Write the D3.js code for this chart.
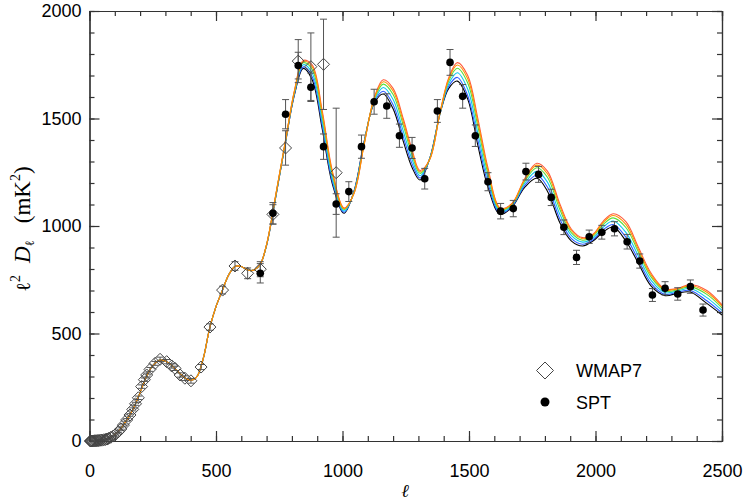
<!DOCTYPE html>
<html><head><meta charset="utf-8">
<script src="https://cdn.jsdelivr.net/npm/d3@7"></script>
<style>body{margin:0;background:#fff}svg{display:block}</style>
</head><body><svg id="c" width="748" height="502"></svg>
<script>
// ---------- data ----------
const xTicks = [0, 500, 1000, 1500, 2000, 2500];
const yTicks = [0, 500, 1000, 1500, 2000];

const wmapL = [3,6,9,12,15,19,23,27,31,36,41,46,51,57,63,69,75,84,94,104,114,124,134,147,160,171,182,193,206,217,226,239,259,279,305,325,338,358,377,401,441,476,526,575,625,675,725,775,825,875,925,975];
const wmapD = [0,0,0,0,0,1,1,1,2,2,3,4,4,6,7,9,12,17,23,32,43,56,74,98,121,147,173,201,253,285,307,333,361,380,369,349,338,307,292,280,344,530,702,814,780,799,1054,1363,1767,1741,1752,1248];
const wmapErr = [0,0,0,0,0,1,1,1,1,1,1,1,1,2,2,2,2,3,3,4,4,5,5,6,6,7,7,8,8,8,9,9,9,10,10,10,10,10,11,11,12,15,18,20,25,35,45,80,100,157,210,300];

const sptL = [675,725,775,825,875,925,975,1025,1075,1125,1175,1225,1275,1325,1375,1425,1475,1525,1575,1625,1675,1725,1775,1825,1875,1925,1975,2025,2075,2125,2175,2225,2275,2325,2375,2425];
const sptD = [780,1059,1520,1746,1645,1369,1102,1160,1369,1578,1558,1420,1363,1220,1535,1761,1603,1420,1206,1069,1081,1253,1240,1133,994,854,950,971,987,927,837,679,710,684,718,609];
const sptErr = [45,50,68,62,66,59,48,46,54,58,57,54,49,48,53,60,55,50,42,36,38,39,37,38,34,33,31,32,33,34,33,30,31,29,31,28];

// model curves: common low-ell part + per-model high-ell part
const lowEll = [0,20,40,60,80,100,125,150,175,200,225,250,275,300,325,350,375,400,425,450,475,500,525,550,575,600,625,650,675];
const lowVals = [0,1,3,7,14,30,60,103,155,225,300,350,375,372,352,322,295,282,300,385,525,625,700,772,812,812,795,795,822];
const highEll = [700,740,775,810,845,880,920,960,1006,1045,1085,1125,1161,1200,1240,1275,1306,1345,1385,1420,1454,1495,1535,1575,1623,1670,1720,1768,1810,1860,1905,1949,1990,2030,2070,2120,2170,2220,2275,2325,2374,2440,2500];
const modelBlack  = [910,1160,1390,1610,1733,1680,1450,1195,1059,1160,1390,1570,1614,1545,1395,1272,1214,1315,1520,1640,1674,1590,1375,1180,1054,1088,1180,1222,1162,1013,930,907,930,972,995,930,825,720,676,688,693,640,586];
const modelBlue   = [911,1162,1392,1614,1740,1694,1467,1206,1064,1158,1387,1575,1627,1564,1416,1289,1223,1314,1521,1650,1691,1606,1400,1198,1060,1091,1188,1236,1181,1030,941,915,936,982,1007,948,840,732,682,692,700,652,595];
const modelCyan   = [912,1164,1394,1619,1750,1712,1488,1220,1070,1155,1383,1581,1644,1588,1442,1309,1234,1313,1522,1662,1713,1636,1431,1220,1068,1096,1198,1254,1204,1052,955,925,944,994,1023,970,859,747,690,698,709,667,607];
const modelGreen  = [914,1167,1397,1624,1759,1729,1510,1238,1077,1153,1380,1588,1660,1612,1469,1330,1245,1312,1524,1675,1734,1665,1463,1243,1075,1100,1208,1271,1227,1074,968,934,952,1007,1038,993,878,762,698,703,718,682,619];
const modelOrange = [914,1169,1399,1627,1765,1741,1524,1248,1081,1151,1377,1592,1671,1628,1486,1344,1252,1311,1524,1683,1749,1685,1484,1258,1080,1103,1215,1283,1243,1089,978,941,958,1016,1049,1008,890,772,703,707,723,692,627];
const modelRed    = [915,1170,1400,1630,1770,1750,1535,1255,1084,1150,1375,1595,1680,1640,1500,1355,1258,1310,1525,1690,1760,1700,1500,1270,1084,1105,1220,1292,1255,1100,985,946,962,1022,1057,1020,900,780,707,710,728,700,633];

const models = [
  {vals: modelBlack,  color: "#000000"},
  {vals: modelBlue,   color: "#2f5cff"},
  {vals: modelCyan,   color: "#10c8ec"},
  {vals: modelGreen,  color: "#5adf3a"},
  {vals: modelRed,    color: "#ff5a3c"},
  {vals: modelOrange, color: "#ff9400"}
];

// ---------- drawing ----------
const svg = d3.select("#c");
const x = d3.scaleLinear().domain([0, 2500]).range([89.5, 722]);
const y = d3.scaleLinear().domain([0, 2000]).range([441, 11]);
const axisColor = "#333";

const ell = lowEll.concat(highEll);
const line = d3.line().x(d => x(d[0])).y(d => y(d[1])).curve(d3.curveCatmullRom.alpha(0.5));

svg.append("defs").append("clipPath").attr("id", "clip")
  .append("rect").attr("x", 89.5).attr("y", 11).attr("width", 632.5).attr("height", 430);

const gCurves = svg.append("g").attr("clip-path", "url(#clip)");
models.forEach(m => {
  const pts = ell.map((l, i) => [l, i < lowVals.length ? lowVals[i] : m.vals[i - lowVals.length]]);
  gCurves.append("path").attr("d", line(pts)).attr("fill", "none")
    .attr("stroke", m.color).attr("stroke-width", 1.1);
});

// axes
function styleAxis(g) {
  g.selectAll(".domain").attr("stroke", axisColor).attr("stroke-width", 1.2);
  g.selectAll(".tick line").attr("stroke", axisColor).attr("stroke-width", 1.2);
  g.selectAll("text").attr("font-family", "Liberation Sans, Arial, sans-serif")
    .attr("font-size", 18).attr("fill", "#000");
}
const minorX = d3.range(0, 2501, 100);
const minorY = d3.range(0, 2001, 100);

svg.append("g").attr("transform", `translate(0,${y(0)})`)
  .call(d3.axisBottom(x).tickValues(minorX).tickSize(-5).tickFormat("")).call(styleAxis);
svg.append("g").attr("transform", `translate(0,${y(0)})`)
  .call(d3.axisBottom(x).tickValues(xTicks).tickSizeInner(-10).tickSizeOuter(0).tickPadding(23).tickFormat(d3.format("d"))).call(styleAxis);
svg.append("g").attr("transform", `translate(0,${y(2000)})`)
  .call(d3.axisTop(x).tickValues(minorX).tickSize(-5).tickFormat("")).call(styleAxis);
svg.append("g").attr("transform", `translate(0,${y(2000)})`)
  .call(d3.axisTop(x).tickValues(xTicks).tickSizeInner(-10).tickSizeOuter(0).tickFormat("")).call(styleAxis);

svg.append("g").attr("transform", `translate(${x(0)},0)`)
  .call(d3.axisLeft(y).tickValues(minorY).tickSize(-5).tickFormat("")).call(styleAxis);
svg.append("g").attr("transform", `translate(${x(0)},0)`)
  .call(d3.axisLeft(y).tickValues(yTicks).tickSizeInner(-10).tickSizeOuter(0).tickPadding(8).tickFormat(d3.format("d"))).call(styleAxis);
svg.append("g").attr("transform", `translate(${x(2500)},0)`)
  .call(d3.axisRight(y).tickValues(minorY).tickSize(-5).tickFormat("")).call(styleAxis);
svg.append("g").attr("transform", `translate(${x(2500)},0)`)
  .call(d3.axisRight(y).tickValues(yTicks).tickSizeInner(-10).tickSizeOuter(0).tickFormat("")).call(styleAxis);

// error bars helper
function errBars(L, D, E, color) {
  const g = svg.append("g").attr("stroke", color).attr("stroke-width", 1).attr("fill", "none");
  L.forEach((l, i) => {
    if (E[i] <= 0) return;
    const cx = x(l), y1 = y(D[i] + E[i]), y2 = y(D[i] - E[i]);
    g.append("line").attr("x1", cx).attr("x2", cx).attr("y1", y1).attr("y2", y2);
    g.append("line").attr("x1", cx - 3.5).attr("x2", cx + 3.5).attr("y1", y1).attr("y2", y1);
    g.append("line").attr("x1", cx - 3.5).attr("x2", cx + 3.5).attr("y1", y2).attr("y2", y2);
  });
}
errBars(wmapL, wmapD, wmapErr, "#555");
errBars(sptL, sptD, sptErr, "#555");

// WMAP diamonds
const diamond = s => `M0,${-s}L${s},0L0,${s}L${-s},0Z`;
svg.append("g").selectAll("path").data(wmapL).join("path")
  .attr("transform", (l, i) => `translate(${x(l)},${y(wmapD[i])})`)
  .attr("d", diamond(6)).attr("fill", "none").attr("stroke", "#444").attr("stroke-width", 1);

// SPT dots
svg.append("g").selectAll("circle").data(sptL).join("circle")
  .attr("cx", l => x(l)).attr("cy", (l, i) => y(sptD[i])).attr("r", 3.8).attr("fill", "#000");

// legend
svg.append("path").attr("transform", "translate(545,370.5)").attr("d", diamond(8.5))
  .attr("fill", "none").attr("stroke", "#444").attr("stroke-width", 1);
svg.append("circle").attr("cx", 545).attr("cy", 402).attr("r", 4.5).attr("fill", "#000");
const legFont = "Liberation Sans, Arial, sans-serif";
svg.append("text").attr("x", 576).attr("y", 377).attr("font-family", legFont).attr("font-size", 18).text("WMAP7");
svg.append("text").attr("x", 576).attr("y", 408.5).attr("font-family", legFont).attr("font-size", 18).text("SPT");

// axis titles
svg.append("text").attr("x", 405).attr("y", 497).attr("text-anchor", "middle")
  .attr("font-family", "DejaVu Serif, Liberation Serif, serif").attr("font-style", "italic")
  .attr("font-size", 18).text("ℓ");

const yt = svg.append("text").attr("transform", "translate(30,229) rotate(-90)")
  .attr("text-anchor", "middle").attr("font-family", "Liberation Serif, DejaVu Serif, serif")
  .attr("font-size", 23).attr("fill", "#000");
yt.append("tspan").attr("font-family", "DejaVu Serif, serif").attr("font-size", 20).text("ℓ");
yt.append("tspan").attr("font-size", 14).attr("dy", -10).text("2");
yt.append("tspan").attr("dx", 12).attr("dy", 10).attr("font-style", "italic").text("D");
yt.append("tspan").attr("font-family", "DejaVu Serif, serif").attr("font-size", 13).attr("dy", 4).text("ℓ");
yt.append("tspan").attr("dx", 17).attr("dy", -4).text("(mK");
yt.append("tspan").attr("font-size", 14).attr("dy", -10).text("2");
yt.append("tspan").attr("dy", 10).text(")");
</script></body></html>
